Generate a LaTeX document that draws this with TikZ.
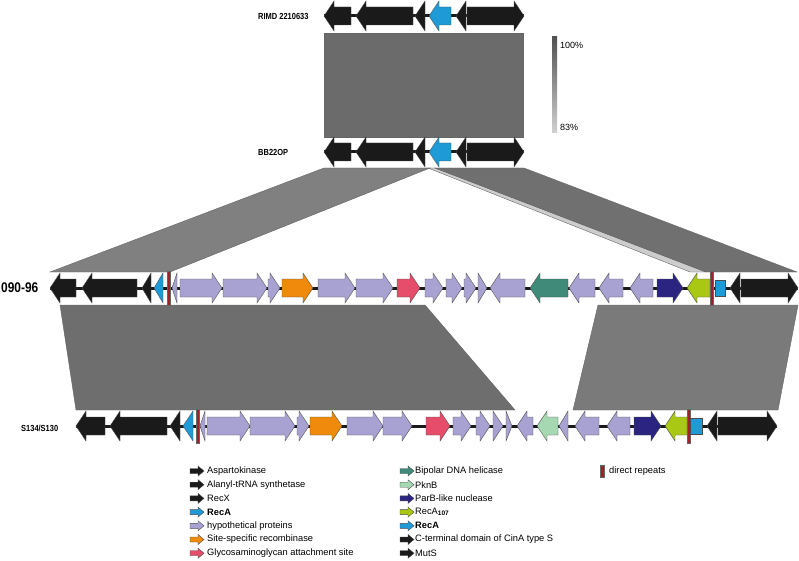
\documentclass[tikz,border=0pt]{standalone}
\usepackage{fontspec}
\setmainfont{Liberation Sans}
\newfontfamily\narrowsans[FakeStretch=0.85]{Liberation Sans}
\definecolor{genblack}{HTML}{1A1A1A}
\definecolor{recablue}{HTML}{1E9AD6}
\definecolor{hypo}{HTML}{A8A2D2}
\definecolor{sitesp}{HTML}{F08A0C}
\definecolor{glyco}{HTML}{E64D6A}
\definecolor{helic}{HTML}{3F8A78}
\definecolor{pknb}{HTML}{A6D8B2}
\definecolor{parb}{HTML}{2B2480}
\definecolor{recaa}{HTML}{A9C814}
\definecolor{repeatred}{HTML}{A3202A}
\tikzset{
  gene/.style={draw=black!70,line width=0.4pt},
  backbone/.style={line width=3pt,genblack},
  rep/.style={fill=repeatred,draw=black!60,line width=0.3pt},
  band/.style={draw=black!60,line width=0.4pt},
  trk/.style={font=\narrowsans\bfseries\fontsize{8.8}{9}\selectfont,inner sep=0pt},
  lgtxt/.style={font=\fontsize{9.3}{10}\selectfont,inner sep=0pt,anchor=west}
}
% right-pointing gene: colour, start, tip, track y
\newcommand{\gr}[4]{%
  \pgfmathsetmacro\hx{max(#2,#3-10)}%
  \filldraw[gene,fill=#1] (#2,#4-9) -- (\hx,#4-9) -- (\hx,#4-15) -- (#3,#4)
    -- (\hx,#4+15) -- (\hx,#4+9) -- (#2,#4+9) -- cycle;}
% left-pointing gene: colour, tip, end, track y
\newcommand{\gl}[4]{%
  \pgfmathsetmacro\hx{min(#2+10,#3)}%
  \filldraw[gene,fill=#1] (#3,#4-9) -- (\hx,#4-9) -- (\hx,#4-15) -- (#2,#4)
    -- (\hx,#4+15) -- (\hx,#4+9) -- (#3,#4+9) -- cycle;}
% direct repeat bar
\newcommand{\drep}[2]{\filldraw[rep] (#1,#2-17) rectangle (#1+3,#2+17);}
% small legend arrow
\newcommand{\lgd}[3]{%
  \filldraw[gene,fill=#1] (#2,#3-2.5) -- (#2+8,#3-2.5) -- (#2+8,#3-5) -- (#2+14,#3)
    -- (#2+8,#3+5) -- (#2+8,#3+2.5) -- (#2,#3+2.5) -- cycle;}

\begin{document}
\begin{tikzpicture}[x=1pt,y=-1pt]
\useasboundingbox (0,0) rectangle (799,561);

% similarity blocks
\filldraw[band,fill=black!58] (324,33) rectangle (523,137);
\filldraw[band,fill=black!50] (324,168)--(430,168)--(170,272)--(50,272)--cycle;
\filldraw[band,fill=black!20] (428,168)--(435,168)--(706,272)--(690,272)--cycle;
\filldraw[band,fill=black!56] (435,168)--(524,168)--(797,272)--(706,272)--cycle;
\filldraw[band,fill=black!57] (60,305)--(425,305)--(515,410)--(76,410)--cycle;
\filldraw[band,fill=black!52] (598,305)--(798,305)--(778,410)--(573,410)--cycle;

% scale
\shade[top color=black!68,bottom color=black!18] (552,37) rectangle (557,133);
\node[lgtxt,font=\fontsize{9}{10}\selectfont] (top) at (560,45) {100\%};
\node[lgtxt,font=\fontsize{9}{10}\selectfont] (bot) at (560,127) {83\%};

% RIMD 2210633
\node[trk,anchor=west] (rimd) at (258,16) {RIMD 2210633};
\draw[backbone] (324,16) -- (524,16);
\gl{genblack}{324}{351}{16}
\gl{genblack}{356}{413}{16}
\gl{genblack}{415}{425}{16}
\gl{recablue}{429}{451}{16}
\gl{genblack}{456}{466}{16}
\gr{genblack}{467}{524}{16}

% BB22OP
\node[trk,anchor=west] (bb) at (258,152) {BB22OP};
\draw[backbone] (324,152) -- (524,152);
\gl{genblack}{324}{351}{152}
\gl{genblack}{356}{413}{152}
\gl{genblack}{415}{425}{152}
\gl{recablue}{429}{451}{152}
\gl{genblack}{456}{466}{152}
\gr{genblack}{467}{524}{152}

% 090-96
\node[font=\narrowsans\bfseries\fontsize{14}{15}\selectfont,inner sep=0pt,anchor=west] (vp) at (1,288) {090-96};
\draw[backbone] (50,288) -- (798,288);
\gl{genblack}{50}{76}{288}
\gl{genblack}{82}{137}{288}
\gl{genblack}{142}{151}{288}
\gl{recablue}{154}{163}{288}
\drep{167}{288}
\gl{hypo}{172}{177}{288}
\gr{hypo}{180}{222}{288}
\gr{hypo}{223}{267}{288}
\gr{hypo}{268}{280}{288}
\gr{sitesp}{282}{313}{288}
\gr{hypo}{318}{355}{288}
\gr{hypo}{356}{393}{288}
\gr{glyco}{397}{420}{288}
\gr{hypo}{425}{443}{288}
\gr{hypo}{446}{462}{288}
\gr{hypo}{464}{476}{288}
\gr{hypo}{478}{487}{288}
\gl{hypo}{490}{525}{288}
\gl{helic}{530}{568}{288}
\gl{hypo}{569}{595}{288}
\gl{hypo}{599}{623}{288}
\gl{hypo}{630}{653}{288}
\gr{parb}{657}{683}{288}
\gl{recaa}{687}{710}{288}
\drep{710}{288}
\filldraw[gene,fill=recablue] (715,280) rectangle (725,296);
\gl{genblack}{730}{740}{288}
\gr{genblack}{741}{798}{288}

% S134/S130
\node[trk,anchor=west] (sc) at (21,428) {S134/S130};
\draw[backbone] (76,426) -- (777,426);
\gl{genblack}{76}{105}{426}
\gl{genblack}{110}{167}{426}
\gl{genblack}{170}{180}{426}
\gl{recablue}{183}{193}{426}
\drep{196}{426}
\gl{hypo}{200}{205}{426}
\gr{hypo}{207}{250}{426}
\gr{hypo}{250}{295}{426}
\gr{hypo}{297}{309}{426}
\gr{sitesp}{310}{342}{426}
\gr{hypo}{347}{383}{426}
\gr{hypo}{383}{412}{426}
\gr{glyco}{426}{450}{426}
\gr{hypo}{453}{471}{426}
\gr{hypo}{476}{490}{426}
\gr{hypo}{493}{503}{426}
\gr{hypo}{506}{512}{426}
\gl{hypo}{517}{533}{426}
\gl{pknb}{537}{558}{426}
\gl{hypo}{559}{568}{426}
\gl{hypo}{575}{599}{426}
\gl{hypo}{607}{630}{426}
\gr{parb}{634}{661}{426}
\gl{recaa}{665}{687}{426}
\drep{687}{426}
\filldraw[gene,fill=recablue] (690,418) rectangle (702,434);
\gl{genblack}{707}{717}{426}
\gr{genblack}{718}{777}{426}

% legend
\lgd{genblack}{190}{471}
\node[lgtxt] (l1) at (207,471) {Aspartokinase};
\lgd{genblack}{190}{484.7}
\node[lgtxt] (l2) at (207,484.7) {Alanyl-tRNA synthetase};
\lgd{genblack}{190}{498.4}
\node[lgtxt] (l3) at (207,498.4) {RecX};
\lgd{recablue}{190}{512.1}
\node[lgtxt] (l4) at (207,512.1) {\bfseries RecA};
\lgd{hypo}{190}{525.8}
\node[lgtxt] (l5) at (207,525.8) {hypothetical proteins};
\lgd{sitesp}{190}{539.5}
\node[lgtxt] (l6) at (207,539.5) {Site-specific recombinase};
\lgd{glyco}{190}{553.2}
\node[lgtxt] (l7) at (207,553.2) {Glycosaminoglycan attachment site};

\lgd{helic}{400}{471}
\node[lgtxt] (m1) at (415,471) {Bipolar DNA helicase};
\lgd{pknb}{400}{484.7}
\node[lgtxt] (m2) at (415,484.7) {PknB};
\lgd{parb}{400}{498.4}
\node[lgtxt] (m3) at (415,498.4) {ParB-like nuclease};
\lgd{recaa}{400}{512.1}
\node[lgtxt] (m4) at (415,512.1) {RecA\textsubscript{\bfseries 107}};
\lgd{recablue}{400}{525.8}
\node[lgtxt] (m5) at (415,525.8) {\bfseries RecA};
\lgd{genblack}{400}{539.5}
\node[lgtxt] (m6) at (415,539.5) {C-terminal domain of CinA type S};
\lgd{genblack}{400}{553.2}
\node[lgtxt] (m7) at (415,553.2) {MutS};

\filldraw[rep] (600,465) rectangle (604,477);
\node[lgtxt] (r1) at (609,471) {direct repeats};

\end{tikzpicture}
\end{document}
